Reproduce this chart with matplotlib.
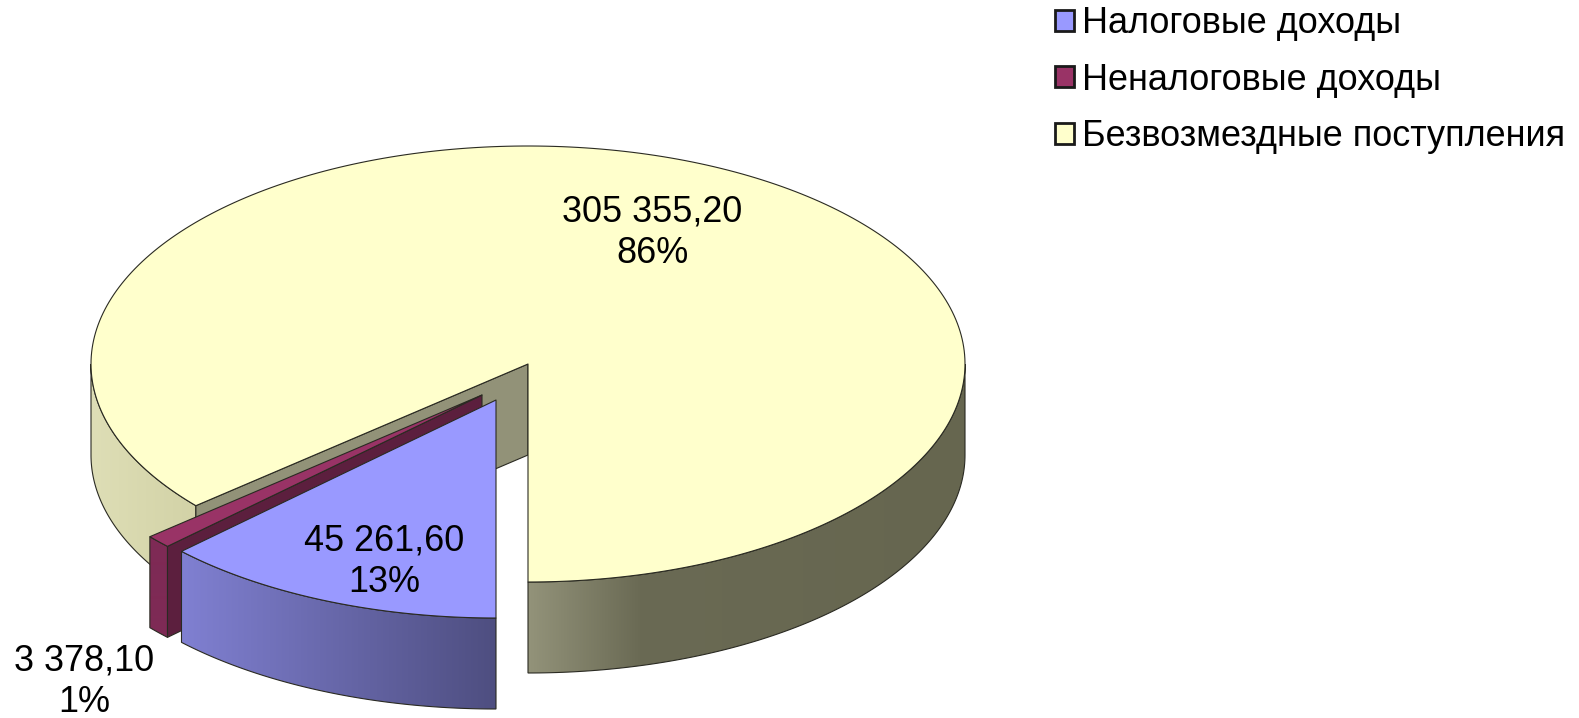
import numpy as np
import matplotlib
matplotlib.use("Agg")
import matplotlib.pyplot as plt
from matplotlib.patches import Polygon, Patch
from matplotlib.colors import to_rgb

categories = ["Налоговые доходы", "Неналоговые доходы", "Безвозмездные поступления"]
values = [45261.60, 3378.10, 305355.20]
value_labels = ["45 261,60\n13%", "3 378,10\n1%", "305 355,20\n86%"]

W, H = 1579, 718
plt.rcParams["font.family"] = ["Liberation Sans", "DejaVu Sans"]
FS = 25.9
fig = plt.figure(figsize=(W / 100, H / 100), dpi=100)
ax = fig.add_axes([0, 0, 1, 1])
ax.set_axis_off()

RX, RY, DEPTH = 437, 218, 91
CENTER = (528, 364)
OFFSETS = [(-32, 36), (-46, 31), (0, 0)]
TOP = ["#9999FF", "#993366", "#FFFFCC"]
EDGE = "#2a2a22"
LW = 0.8

angles = np.cumsum([0] + values) / sum(values) * 360


def rim(c, a0, a1, n=120):
    t = np.radians(np.linspace(a0, a1, n))
    return np.column_stack([c[0] - RX * np.sin(t), c[1] + RY * np.cos(t)])


def grad_wall(pts, stops, z):
    poly = Polygon(pts, closed=True, fc="none", ec=EDGE, lw=LW, zorder=z + 0.1)
    ax.add_patch(poly)
    xs = np.arange(0, W)
    sx = [s[0] for s in stops]
    cols = np.array([to_rgb(s[1]) for s in stops])
    img = np.stack([np.interp(xs, sx, cols[:, i]) for i in range(3)], axis=-1)[None, :, :]
    im = ax.imshow(img, extent=(0, W, H, 0), aspect="auto", zorder=z, interpolation="bilinear")
    clip = Polygon(pts, closed=True, transform=ax.transData)
    im.set_clip_path(clip)


def flat(pts, color, z):
    ax.add_patch(Polygon(pts, closed=True, fc=color, ec=EDGE, lw=LW, zorder=z, joinstyle="round"))


def down(p, d=DEPTH):
    return p + np.array([0, d])


# Yellow slice (large, back)
c = np.array(CENTER, float)
a0, a1 = angles[2], angles[3]
r = rim(c, a0, 90)
grad_wall(np.vstack([r, down(r)[::-1]]), [(91, "#DEDEB6"), (200, "#D2D2A6")], 1)
r = rim(c, 270, 360)
grad_wall(np.vstack([r, down(r)[::-1]]),
          [(528, "#93937A"), (640, "#6A6A54"), (965, "#66664F")], 1)
p = rim(c, a0, a0, 1)[0]
flat([c, p, down(p), down(c)], "#929278", 2)
flat(np.vstack([c, rim(c, a0, a1, 300)]), TOP[2], 3)

# Red slice
c = np.array(CENTER, float) + OFFSETS[1]
a0, a1 = angles[1], angles[2]
r = rim(c, a0, a1, 10)
grad_wall(np.vstack([r, down(r)[::-1]]), [(150, "#7E2A55"), (170, "#7E2A55")], 4)
p = r[0]
flat([c, p, down(p), down(c)], "#5C1F3E", 4.5)
flat(np.vstack([c, r]), TOP[1], 5)

# Blue slice
c = np.array(CENTER, float) + OFFSETS[0]
a0, a1 = angles[0], angles[1]
r = rim(c, a0, a1)[::-1]
grad_wall(np.vstack([r, down(r)[::-1]]), [(181, "#8080D2"), (496, "#4E4E80")], 6)
flat(np.vstack([c, rim(c, a0, a1)]), TOP[0], 7)

# Data labels
label_pos = [(384, 562), (84, 681.5), (652, 233)]
for (x, y), s in zip(label_pos, value_labels):
    ax.text(x, y, s, ha="center", va="center", fontsize=FS, color="black", linespacing=1.23, zorder=10)

ax.set_xlim(0, W)
ax.set_ylim(H, 0)

handles = [Patch(fc=col, ec="#1a1a1a", lw=2.0) for col in TOP]
ax.legend(handles, categories, loc="upper left", bbox_to_anchor=(1055, 6), bbox_transform=ax.transData,
          frameon=False, fontsize=FS, borderpad=0, borderaxespad=0, handlelength=0.53, handleheight=0.53,
          handletextpad=0.22, labelspacing=0.60)

fig.savefig("out.png", dpi=100, facecolor="white")
